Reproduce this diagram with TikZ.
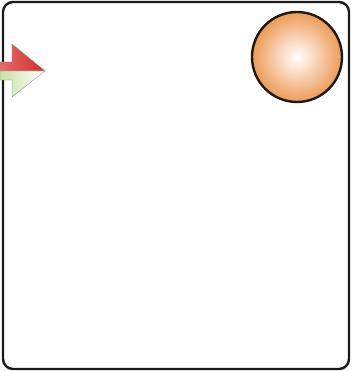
\documentclass[tikz,border=0pt]{standalone}
\usepackage{xcolor}
\definecolor{frameink}{HTML}{1A1A1A}
\definecolor{ballorange}{HTML}{EE9A55}
\definecolor{arrowred}{HTML}{D42A2A}
\definecolor{arrowpink}{HTML}{E66A6A}
\definecolor{arrowgreen}{HTML}{C4E2A2}
\definecolor{arrowedge}{HTML}{8A8A8A}

\begin{document}
\begin{tikzpicture}[x=1pt, y=-1pt,
                    frame/.style={frameink, line width=2.4pt, rounded corners=10pt},
                    ball/.style={draw=frameink, line width=2.4pt, inner color=white, outer color=ballorange},
                    halfarrow/.style={draw=arrowedge, line width=0.3pt}]

  %% 畫面範圍
  \useasboundingbox (0,0) rectangle (351,371);

  %% 外框
  \draw[frame] (3,2) rectangle (349,369);

  %% 右上角的球
  \node[ball, circle, minimum size=90pt, inner sep=0pt] (ball) at (297,57) {};

  %% 左側的箭頭：上半紅、下半綠
  \shade[halfarrow, left color=arrowpink, right color=arrowred]
    (0,71) -- (0,62) -- (12,62) -- (12,44) -- (45,71) -- cycle;
  \shade[halfarrow, left color=arrowgreen, right color=white]
    (0,71) -- (0,80) -- (12,80) -- (12,97) -- (45,71) -- cycle;

\end{tikzpicture}
\end{document}
